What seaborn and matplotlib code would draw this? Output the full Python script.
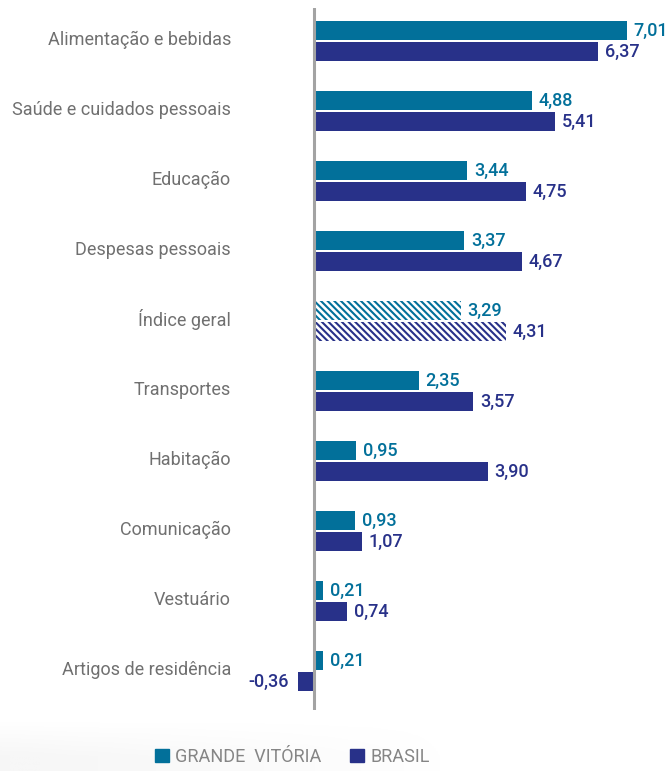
import numpy as np
import pandas as pd
import matplotlib.pyplot as plt
import matplotlib.patches as mpatches
import matplotlib.transforms as mtransforms
import seaborn as sns

# data
categories = ["Alimentação e bebidas", "Saúde e cuidados pessoais", "Educação",
              "Despesas pessoais", "Índice geral", "Transportes", "Habitação",
              "Comunicação", "Vestuário", "Artigos de residência"]
grande_vitoria = [7.01, 4.88, 3.44, 3.37, 3.29, 2.35, 0.95, 0.93, 0.21, 0.21]
brasil = [6.37, 5.41, 4.75, 4.67, 4.31, 3.57, 3.90, 1.07, 0.74, -0.36]
series_names = ["GRANDE  VITÓRIA", "BRASIL"]
hatched_category = "Índice geral"

teal = "#02709a"
navy = "#283189"
colors = [teal, navy]

df = pd.DataFrame({
    "categoria": categories * 2,
    "valor": grande_vitoria + brasil,
    "serie": [series_names[0]] * len(categories) + [series_names[1]] * len(categories),
})

sns.set_style("white")
plt.rcParams['font.family'] = ['Roboto', 'DejaVu Sans']
plt.rcParams['hatch.linewidth'] = 1.5

fig = plt.figure(figsize=(6.69, 7.71), dpi=100)

# faint grey shading behind the legend area (fades right and upwards)
bg = fig.add_axes([0, 0, 450 / 669, 50 / 771], zorder=-1)
horiz = np.linspace(1, 0, 256)[None, :] ** 0.8
vert = np.clip(np.linspace(1.4, 0, 64), 0, 1)[:, None]
bg.imshow(horiz * vert, cmap="Greys", vmin=0, vmax=14, aspect="auto",
          extent=(0, 1, 0, 1), origin="lower")
bg.axis("off")

ax = fig.add_axes([250 / 669, 1 - 710 / 771, 410 / 669, 702 / 771])
ax.patch.set_alpha(0)

sns.barplot(data=df, y="categoria", x="valor", hue="serie", order=categories,
            hue_order=series_names, palette=colors, orient="h", width=0.6,
            gap=0.1, legend=False, ax=ax, saturation=1)

# px: zero at 314, 44.6 px per unit
ax.set_xlim((250 - 314) / 44.6, (660 - 314) / 44.6)
ax.set_ylim((710 - 41) / 70, (8 - 41) / 70)

for cont, vals, col in zip(ax.containers, [grande_vitoria, brasil], colors):
    for cat, bar, v in zip(categories, cont, vals):
        bar.set_linewidth(0)
        if cat == hatched_category:
            bar.set_facecolor("white")
            bar.set_edgecolor(col)
            bar.set_hatch("\\\\\\\\\\")
        yc = bar.get_y() + bar.get_height() / 2
        label = f"{v:.2f}".replace(".", ",")
        if v >= 0:
            ax.text(v + 0.15, yc, label, ha="left", va="center", color=col,
                    fontsize=13, fontweight="medium")
        else:
            ax.text(v - 0.2, yc, label, ha="right", va="center", color=col,
                    fontsize=13, fontweight="medium")

ax.axvline(0, color="#a3a3a3", linewidth=2.2, zorder=5)

ax.set_xlabel("")
ax.set_ylabel("")
ax.set_xticks([])
sns.despine(ax=ax, left=True, bottom=True)

# category labels: right edge near x=231 px, a touch above group centre
ax.tick_params(axis="y", length=0, pad=(314 - 231 - 64) / 100 * 72)
shift = mtransforms.ScaledTranslation(0, 3 / 100, fig.dpi_scale_trans)
for lab in ax.get_yticklabels():
    lab.set_color("#707070")
    lab.set_fontsize(13)
    lab.set_transform(lab.get_transform() + shift)

handles = [mpatches.Patch(color=c, label=n) for c, n in zip(colors, series_names)]
leg = fig.legend(handles=handles, loc="lower center", bbox_to_anchor=(0.437, -0.014),
                 ncol=2, frameon=False, handlelength=0.75, handleheight=0.75,
                 handletextpad=0.35, columnspacing=1.6, fontsize=13)
for t in leg.get_texts():
    t.set_color("#858585")

fig.savefig("out.png", dpi=100)
